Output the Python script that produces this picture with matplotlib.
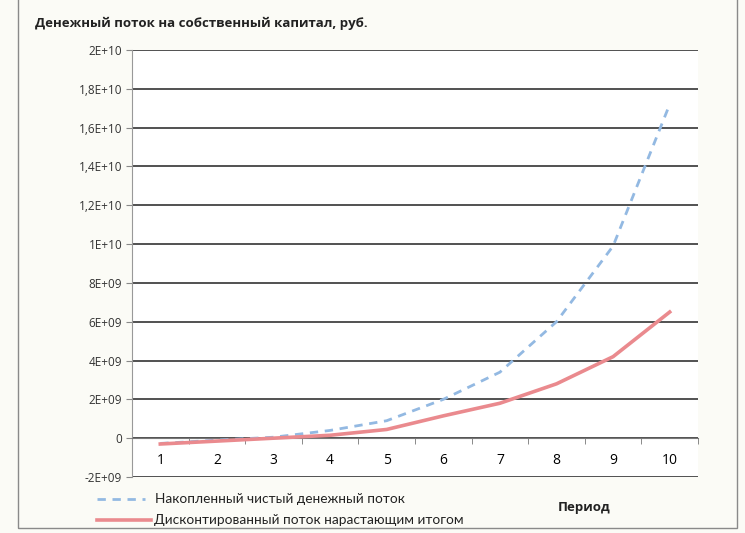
import matplotlib
matplotlib.use("Agg")
import matplotlib.pyplot as plt
from matplotlib.patches import Rectangle
from matplotlib.ticker import FixedLocator

plt.rcParams["font.family"] = ["Open Sans", "DejaVu Sans"]

# данные
periods = [1, 2, 3, 4, 5, 6, 7, 8, 9, 10]
cumulative_flow = [-0.27e9, -0.1e9, 0.05e9, 0.4e9, 0.9e9, 2.0e9, 3.4e9, 6.0e9, 9.9e9, 17.2e9]
discounted_flow = [-0.3e9, -0.15e9, 0.0, 0.15e9, 0.45e9, 1.15e9, 1.8e9, 2.8e9, 4.2e9, 6.5e9]

y_ticks = [-2e9, 0, 2e9, 4e9, 6e9, 8e9, 1e10, 1.2e10, 1.4e10, 1.6e10, 1.8e10, 2e10]
y_tick_labels = ["-2E+09", "0", "2E+09", "4E+09", "6E+09", "8E+09", "1E+10",
                 "1,2E+10", "1,4E+10", "1,6E+10", "1,8E+10", "2E+10"]

title = "Денежный поток на собственный капитал, руб."
label_cum = "Накопленный чистый денежный поток"
label_disc = "Дисконтированный поток нарастающим итогом"

BLUE = "#93b9e2"
RED = "#ea8a8e"

W, H = 745, 533
fig = plt.figure(figsize=(W / 100, H / 100), dpi=100)
fig.patch.set_facecolor("#fbfbf6")

# рамка диаграммы
fig.patches.append(Rectangle((18 / W, 1 - 528 / H), (737 - 18) / W, 528 / H + 0.02,
                             transform=fig.transFigure, fill=False,
                             edgecolor="#8a8a8a", lw=1.0))

ax = fig.add_axes([132 / W, 1 - 477 / H, (698 - 132) / W, (477 - 50) / H])
ax.set_facecolor("white")

ax.set_xlim(0.5, 10.5)
ax.set_ylim(-2e9, 2e10)

ax.set_yticks(y_ticks)
ax.set_yticklabels(y_tick_labels, fontsize=8.5, color="#333333")
ax.yaxis.grid(True, color="#222222", lw=1.1)
ax.set_axisbelow(True)
ax.tick_params(axis="y", length=4, color="#888888", pad=3)

ax.set_xticks(periods)
ax.set_xticklabels([str(p) for p in periods], fontsize=12, color="#222222")
ax.xaxis.set_minor_locator(FixedLocator([p + 0.5 for p in range(0, 11)]))
ax.tick_params(axis="x", which="major", length=0, pad=11)
ax.tick_params(axis="x", which="minor", length=4, color="#777777", direction="out")

for side in ["top", "right"]:
    ax.spines[side].set_visible(False)
ax.spines["left"].set_color("#999999")
ax.spines["bottom"].set_position(("data", 0))
ax.spines["bottom"].set_color("#777777")

ax.plot(periods, cumulative_flow, color=BLUE, lw=2.0,
        dashes=(3.0, 2.4), zorder=3)
ax.plot(periods, discounted_flow, color=RED, lw=2.6, zorder=4)

fig.text(35 / W, 1 - 23 / H, title, fontsize=9.5, fontweight="bold",
         color="#222222", va="center", ha="left")

# легенда
leg_ax = fig.add_axes([0, 0, 1, 1], facecolor="none")
leg_ax.set_xlim(0, W)
leg_ax.set_ylim(H, 0)
leg_ax.axis("off")
leg_ax.plot([97, 145], [499, 499], color=BLUE, lw=2.0, dashes=(3.0, 2.4))
leg_ax.plot([97, 151], [520, 520], color=RED, lw=2.6)
leg_ax.text(155, 499, label_cum, fontsize=9.8, va="center", ha="left",
            color="#222222", family=["Lato", "DejaVu Sans"])
leg_ax.text(154, 520, label_disc, fontsize=9.8, va="center", ha="left",
            color="#222222", family=["Lato", "DejaVu Sans"])
leg_ax.text(584, 508, "Период", fontsize=9.5, fontweight="bold", va="center",
            ha="center", color="#222222")

fig.savefig("out.png", dpi=100, facecolor=fig.get_facecolor())
